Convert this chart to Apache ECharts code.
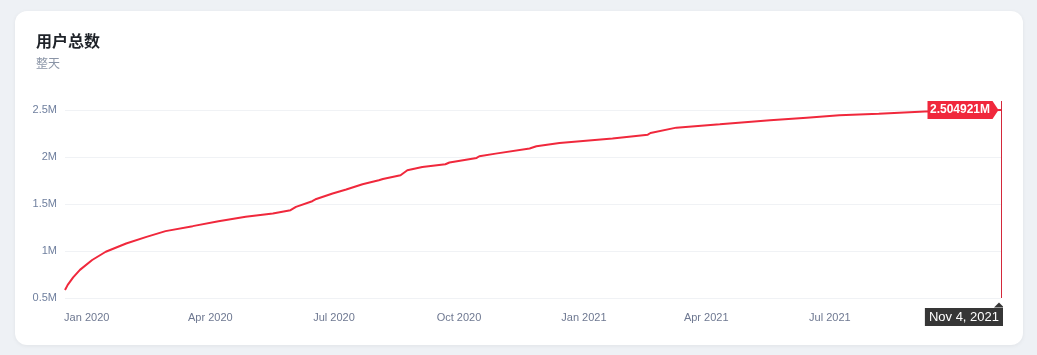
<!DOCTYPE html>
<html>
<head>
<meta charset="utf-8">
<script src="https://cdn.jsdelivr.net/npm/echarts@6/dist/echarts.min.js"></script>
<style>
  html, body { margin: 0; padding: 0; background: #eef1f5; }
  .card {
    position: absolute; left: 15px; top: 11px; width: 1008px; height: 334px;
    background: #fff; border-radius: 12px; box-shadow: 0 1px 4px rgba(0, 0, 0, 0.06);
  }
  #userChart { position: absolute; left: 0; top: 0; width: 988px; height: 334px; }
</style>
</head>
<body>
<div class="card">
  <div id="userChart"></div>
</div>
<script>
  var dates = [
    '2019-12-16', '2019-12-18', '2019-12-22', '2019-12-27', '2020-01-05', '2020-01-15',
    '2020-01-30', '2020-02-14', '2020-02-28', '2020-03-19', '2020-04-07', '2020-04-27',
    '2020-05-17', '2020-05-30', '2020-06-03', '2020-06-15', '2020-06-18', '2020-06-30',
    '2020-07-10', '2020-07-22', '2020-08-03', '2020-08-06', '2020-08-19', '2020-08-20',
    '2020-08-24', '2020-09-04', '2020-09-21', '2020-09-24', '2020-10-14', '2020-10-16',
    '2020-10-28', '2020-11-22', '2020-11-27', '2020-12-14', '2021-01-22', '2021-02-17',
    '2021-02-19', '2021-03-10', '2021-04-11', '2021-05-18', '2021-06-14', '2021-07-08',
    '2021-08-06', '2021-09-09', '2021-11-04'
  ];
  var users = [
    585000, 640000, 720000, 800000, 905000, 993000,
    1081000, 1152000, 1213000, 1266000, 1319000, 1365000,
    1401000, 1436000, 1471000, 1532000, 1556000, 1614000,
    1656000, 1713000, 1755000, 1769000, 1809000, 1827000,
    1862000, 1897000, 1926000, 1944000, 1993000, 2011000,
    2039000, 2093000, 2117000, 2152000, 2199000, 2241000,
    2259000, 2316000, 2351000, 2394000, 2422000, 2447000,
    2465000, 2489000, 2504921
  ];
  var yTicks = [500000, 1000000, 1500000, 2000000, 2500000];
  var yMin = 500000;
  var yMax = 2600000;
  var monthNames = ['Jan', 'Feb', 'Mar', 'Apr', 'May', 'Jun', 'Jul', 'Aug', 'Sep', 'Oct', 'Nov', 'Dec'];
  var quarter = 91 * 24 * 3600 * 1000;

  function toTime (s) {
    var p = s.split('-');
    return new Date(+p[0], +p[1] - 1, +p[2]).getTime();
  }

  var seriesData = dates.map(function (d, i) {
    return [toTime(d), users[i]];
  });
  var lastPoint = seriesData[seriesData.length - 1];
  var red = '#f0283c';

  var myChart = echarts.init(document.getElementById('userChart'));
  myChart.setOption({
    animation: false,
    title: {
      text: '用户总数',
      subtext: '整天',
      left: 16,
      top: 17,
      itemGap: 8,
      textStyle: {
        fontSize: 16,
        fontWeight: 'bold',
        color: '#1f2329',
        fontFamily: 'Noto Sans CJK SC'
      },
      subtextStyle: {
        fontSize: 12,
        color: '#8a94a6',
        fontFamily: 'Noto Sans CJK SC'
      }
    },
    grid: {
      left: 50,
      right: 2,
      top: 90,
      bottom: 47
    },
    xAxis: {
      type: 'time',
      min: 'dataMin',
      max: 'dataMax',
      minInterval: quarter,
      maxInterval: quarter,
      axisLine: {show: false},
      axisTick: {show: false},
      splitLine: {show: false},
      axisLabel: {
        color: '#6e7891',
        fontSize: 11,
        fontFamily: 'Arial',
        margin: 14,
        showMinLabel: false,
        showMaxLabel: false,
        formatter: function (value) {
          var d = new Date(value);
          return monthNames[d.getMonth()] + ' ' + d.getFullYear();
        }
      },
      axisPointer: {
        show: true,
        status: 'show',
        value: lastPoint[0],
        triggerTooltip: false,
        lineStyle: {color: red, width: 1, opacity: 0},
        label: {
          show: true,
          margin: 10,
          backgroundColor: '#363636',
          color: '#fff',
          fontSize: 13,
          fontFamily: 'Arial',
          padding: [3, 4, 2, 4],
          borderRadius: 0,
          formatter: function (params) {
            var d = new Date(params.value);
            return monthNames[d.getMonth()] + ' ' + d.getDate() + ', ' + d.getFullYear();
          }
        }
      }
    },
    yAxis: {
      type: 'value',
      min: yMin,
      max: yMax,
      interval: 500000,
      axisLine: {show: false},
      axisTick: {show: false, customValues: yTicks},
      splitLine: {lineStyle: {color: '#f0f2f5', width: 1}},
      axisLabel: {
        customValues: yTicks,
        color: '#6f7f9e',
        fontSize: 11,
        fontFamily: 'Arial',
        margin: 8,
        formatter: function (v) {
          return (v / 1000000) + 'M';
        }
      }
    },
    series: [
      {
        name: '用户总数',
        type: 'line',
        showSymbol: false,
        data: seriesData,
        lineStyle: {color: red, width: 2},
        itemStyle: {color: red},
        markLine: {
          silent: true,
          symbol: 'none',
          label: {show: false},
          lineStyle: {color: '#d4283a', width: 1, type: 'solid'},
          data: [{xAxis: lastPoint[0]}]
        },
        markPoint: {
          silent: true,
          data: [
            {
              coord: lastPoint,
              symbol: 'path://M0,0 H65 L71,9 L65,18 H0 Z',
              symbolSize: [71, 18],
              symbolOffset: [-38, 0],
              itemStyle: {color: red},
              label: {
                show: true,
                position: 'inside',
                offset: [-3, 0],
                color: '#fff',
                fontSize: 12,
                fontWeight: 'bold',
                fontFamily: 'Arial',
                formatter: function () {
                  return (lastPoint[1] / 1000000) + 'M';
                }
              }
            },
            {
              coord: [lastPoint[0], yMin],
              symbol: 'triangle',
              symbolSize: [10, 5],
              symbolOffset: [-2, 7],
              itemStyle: {color: '#363636'},
              label: {show: false}
            }
          ]
        }
      }
    ]
  });
</script>
</body>
</html>
